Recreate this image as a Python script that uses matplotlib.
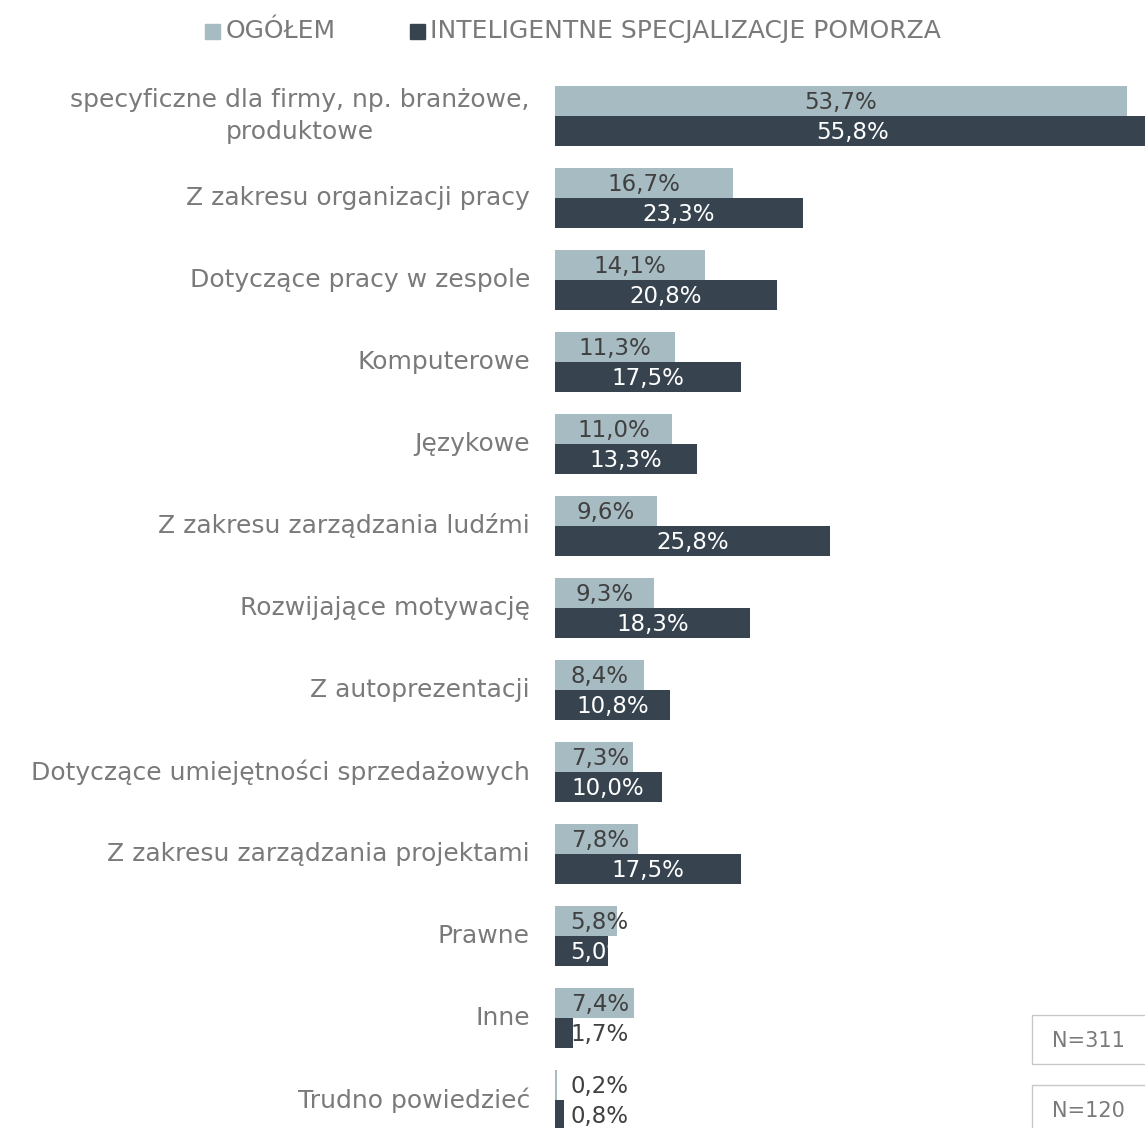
import matplotlib
matplotlib.use("Agg")
import matplotlib.pyplot as plt
from matplotlib.patches import Rectangle

plt.rcParams['font.family'] = ['DejaVu Sans']

categories = [
    "specyficzne dla firmy, np. branżowe,\nproduktowe",
    "Z zakresu organizacji pracy",
    "Dotyczące pracy w zespole",
    "Komputerowe",
    "Językowe",
    "Z zakresu zarządzania ludźmi",
    "Rozwijające motywację",
    "Z autoprezentacji",
    "Dotyczące umiejętności sprzedażowych",
    "Z zakresu zarządzania projektami",
    "Prawne",
    "Inne",
    "Trudno powiedzieć",
]
ogolem = [53.7, 16.7, 14.1, 11.3, 11.0, 9.6, 9.3, 8.4, 7.3, 7.8, 5.8, 7.4, 0.2]
isp = [55.8, 23.3, 20.8, 17.5, 13.3, 25.8, 18.3, 10.8, 10.0, 17.5, 5.0, 1.7, 0.8]
series_names = ["OGÓŁEM", "INTELIGENTNE SPECJALIZACJE POMORZA"]
n_labels = ["N=311", "N=120"]

c_light = "#A7BBC2"
c_dark = "#37444F"
c_text = "#7A7A7A"
c_val = "#404040"

W, H = 1145, 1128
fig = plt.figure(figsize=(W / 100, H / 100), dpi=100)
ax = fig.add_axes([555 / W, 0, 1 - 555 / W, 1 - 75 / H])

bh = 30 / 82
xmax = (W - 555) / 10.65
min_c = 4.2
for i, (a, b) in enumerate(zip(ogolem, isp)):
    ax.barh(i - bh / 2, a, height=bh, color=c_light, edgecolor='none', zorder=1)
    ax.barh(i + bh / 2, b, height=bh, color=c_dark, edgecolor='none', zorder=1)
    fs = 16.5
    xa = max(a / 2, min_c)
    ax.text(xa, i - bh / 2 + 0.02, f"{a:.1f}%".replace('.', ','), ha='center', va='center',
            color=c_val, fontsize=fs, zorder=5)
    xb = max(b / 2, min_c)
    col_b = 'white' if b >= 5 else c_val
    ax.text(xb, i + bh / 2 + 0.02, f"{b:.1f}%".replace('.', ','), ha='center', va='center',
            color=col_b, fontsize=fs, zorder=5)
    ax.text(-25 / 10.65, i, categories[i], ha='right', va='center', color=c_text,
            fontsize=18, linespacing=1.4, multialignment='center', zorder=5)

ax.set_xlim(0, xmax)
ax.set_ylim(12 + (1128 - 1100) / 82, -0.5)
ax.axis('off')

# legend
fig.patches.append(Rectangle((205 / W, 1 - 39 / H), 15 / W, 15 / H, transform=fig.transFigure,
                             color=c_light, figure=fig))
fig.text(226 / W, 1 - 31 / H, series_names[0], ha='left', va='center', color=c_text,
         fontsize=18)
fig.patches.append(Rectangle((410 / W, 1 - 39 / H), 15 / W, 15 / H, transform=fig.transFigure,
                             color=c_dark, figure=fig))
fig.text(430 / W, 1 - 31 / H, series_names[1], ha='left', va='center', color=c_text,
         fontsize=18)

# N boxes
for (y0, y1, txt) in [(1015, 1064, n_labels[0]), (1085, 1140, n_labels[1])]:
    fig.patches.append(Rectangle((1032 / W, 1 - y1 / H), 120 / W, (y1 - y0) / H,
                                 transform=fig.transFigure, facecolor='white',
                                 edgecolor='#C8C8C8', linewidth=1, figure=fig))
    fig.text(1088 / W, 1 - (y0 + 26) / H, txt, ha='center', va='center', color=c_text,
             fontsize=15)

fig.savefig("out.png", dpi=100)
